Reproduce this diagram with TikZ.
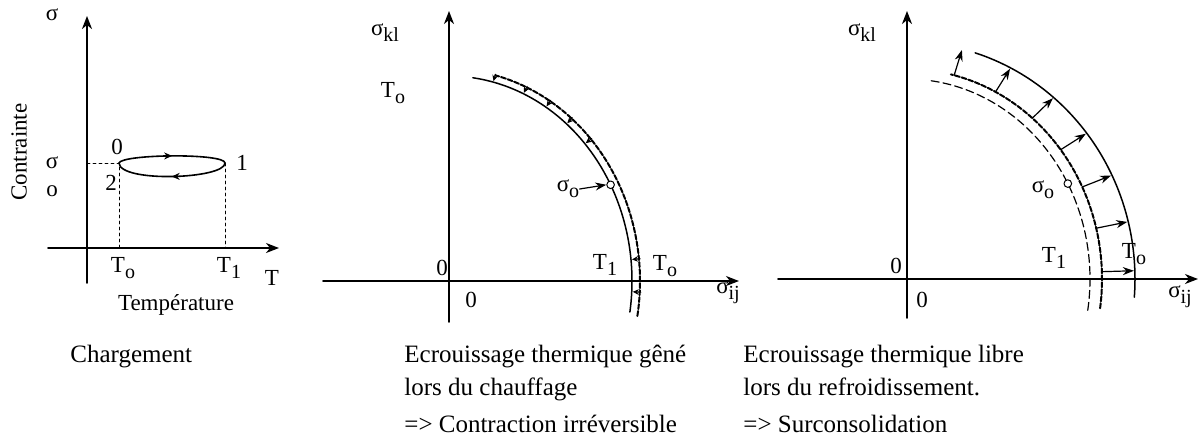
\documentclass[tikz,border=0pt]{standalone}
\usepackage{fontspec}
\setmainfont{Liberation Serif}
\usetikzlibrary{arrows.meta,decorations.markings}
\newcommand{\lowidx}[1]{\raisebox{-0.55ex}{\fontsize{10}{10}\selectfont #1}}

\begin{document}
\begin{tikzpicture}[
    x=0.5pt, y=-0.5pt,
    line cap=round,
    line join=round,
    every node/.style={font=\fontsize{11.5}{12}\selectfont, inner sep=0pt},
    caption/.style={anchor=base west, font=\fontsize{12.5}{13}\selectfont},
    axisline/.style={line width=0.9pt, -{Stealth[length=6.5pt,width=5pt,inset=2pt]}},
    guide/.style={line width=0.4pt, dash pattern=on 1.5pt off 1.5pt},
    loopmark/.style={line width=0.8pt, postaction=decorate,
        decoration={markings, mark=at position 0.5 with {\arrow{Stealth[length=4pt,width=3.5pt]}}}},
    surface/.style={line width=0.75pt},
    thindash/.style={line width=0.6pt, dash pattern=on 4pt off 2pt},
    thickdash/.style={line width=1pt, dash pattern=on 2.5pt off 1pt},
    shrinkarrow/.style={line width=0.6pt, -{Stealth[length=3pt,width=2.8pt]}},
    expandarrow/.style={line width=0.6pt, -{Stealth[length=5.5pt,width=4pt]}},
    stressdot/.style={circle, draw, fill=white, line width=0.5pt, minimum size=3.8pt}
]
\useasboundingbox (0,0) rectangle (1204,436);

% Chargement
\coordinate (v1b) at (87,283);
\coordinate (v1t) at (87,16);
\coordinate (h1l) at (48,248);
\coordinate (h1r) at (279,248);
\draw[axisline] (v1b) -- (v1t);
\draw[axisline] (h1l) -- (h1r);
\coordinate (p0) at (119,163);
\coordinate (p1) at (225,163);
\coordinate (t0) at (119,248);
\coordinate (t1) at (225,248);
\draw[guide] (v1b |- p0) -- (p0) -- (t0);
\draw[guide] (p1) -- (t1);
\draw[loopmark] (p0) .. controls (122,154) and (225,153) .. (p1);
\draw[loopmark] (p1) .. controls (225,179) and (120,183) .. (p0);
\node (sig) at (52,15) {σ};
\node[rotate=90] (contr) at (19,152) {Contrainte};
\node (sigA) at (52,163) {σ};
\node (sigB) at (52,191) {o};
\node (n0) at (117,147) {0};
\node (n2) at (111,183) {2};
\node (n1) at (242,163) {1};
\node (lT0) at (123,268) {T\lowidx{o}};
\node (lT1) at (229,268) {T\lowidx{1}};
\node (lT) at (272,278) {T};
\node (ltemp) at (176,305) {Température};
\node[caption] (lcharg) at (70,362) {Chargement};

% Heating
\coordinate (v2b) at (449,322);
\coordinate (v2t) at (449,11);
\coordinate (h2l) at (323,281);
\coordinate (h2r) at (739,281);
\draw[axisline] (v2b) -- (v2t);
\draw[axisline] (h2l) -- (h2r);
\draw[surface, domain=-8.7:82.5, samples=60, smooth, variable=\t]
    plot ({449+183*cos(\t)},{281-205*sin(\t)});
\draw[thickdash, domain=-9.5:76, samples=60, smooth, variable=\t]
    plot ({449+191*cos(\t)},{281-212*sin(\t)});
\foreach \t in {76,66,58,50,42,6,-3}
    \draw[shrinkarrow] ({449+192*cos(\t)},{281-213*sin(\t)}) -- ({449+184*cos(\t)},{281-206*sin(\t)});
\node[stressdot] (s2) at ({449+183*cos(28)},{281-205*sin(28)}) {};
\node (ls2) at (568,189) {σ\lowidx{o}};
\draw[expandarrow] (ls2.east) -- (s2.west);
\node (kl2) at (385,33) {σ\lowidx{kl}};
\node (ij2) at (728,293) {σ\lowidx{ij}};
\node (T2a) at (393,93) {T\lowidx{o}};
\node (z2a) at (442,268) {0};
\node (z2b) at (471,300) {0};
\node (T2b) at (605,265) {T\lowidx{1}};
\node (T2c) at (665,266) {T\lowidx{o}};
\node[caption] (c2a) at (404,362) {Ecrouissage thermique gêné};
\node[caption] (c2b) at (404,395) {lors du chauffage};
\node[caption] (c2c) at (404,432) {=> Contraction irréversible};

% Cooling
\coordinate (v3b) at (907,318);
\coordinate (v3t) at (907,11);
\coordinate (h3l) at (778,279);
\coordinate (h3r) at (1198,279);
\draw[axisline] (v3b) -- (v3t);
\draw[axisline] (h3l) -- (h3r);
\draw[thindash, domain=-9:83, samples=60, smooth, variable=\t]
    plot ({907+183*cos(\t)},{279-200*sin(\t)});
\draw[thickdash, domain=-8:77, samples=60, smooth, variable=\t]
    plot ({907+195*cos(\t)},{279-210*sin(\t)});
\draw[surface, domain=-4.4:72.6, samples=60, smooth, variable=\t]
    plot ({907+228*cos(\t)},{279-237*sin(\t)});
\foreach \t in {76,63,50,38,26,14,2}
    \draw[expandarrow] ({907+195*cos(\t)},{279-210*sin(\t)}) -- ({907+227*cos(\t)},{279-236*sin(\t)});
\node[stressdot] (s3) at ({907+183*cos(28.5)},{279-200*sin(28.5)}) {};
\node (ls3) at (1043,190) {σ\lowidx{o}};
\node (kl3) at (862,33) {σ\lowidx{kl}};
\node (ij3) at (1180,297) {σ\lowidx{ij}};
\node (z3a) at (896,266) {0};
\node (z3b) at (922,300) {0};
\node (T3a) at (1054,258) {T\lowidx{1}};
\node (T3b) at (1134,254) {T\lowidx{o}};
\node[caption] (c3a) at (743,362) {Ecrouissage thermique libre};
\node[caption] (c3b) at (743,395) {lors du refroidissement.};
\node[caption] (c3c) at (743,432) {=> Surconsolidation};
\end{tikzpicture}
\end{document}
